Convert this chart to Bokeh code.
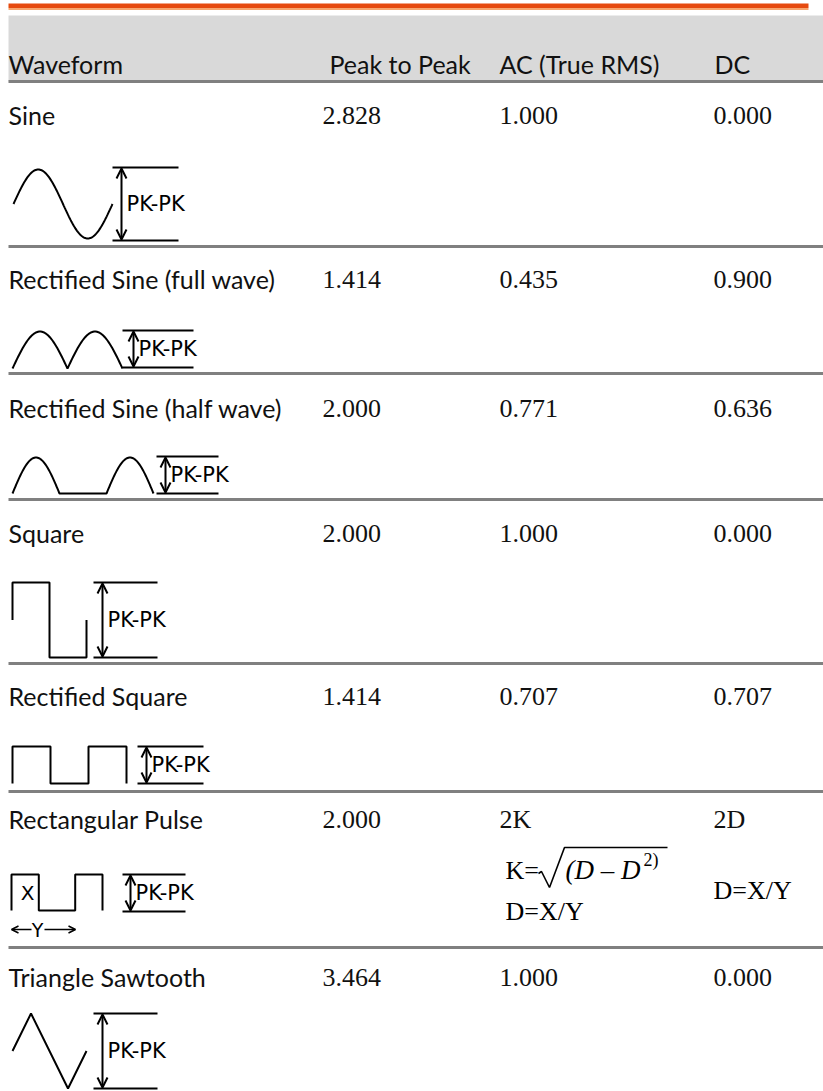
import numpy as np
from bokeh.plotting import figure
from bokeh.models import Range1d, ColumnDataSource, Arrow, OpenHead
from bokeh.core.properties import value
from bokeh.embed import file_html
from bokeh.resources import INLINE

# ---------------- data ----------------
headers = ["Waveform", "Peak to Peak", "AC (True RMS)", "DC"]
waveforms = ["Sine", "Rectified Sine (full wave)", "Rectified Sine (half wave)",
             "Square", "Rectified Square", "Rectangular Pulse", "Triangle Sawtooth"]
peak_to_peak = ["2.828", "1.414", "2.000", "2.000", "1.414", "2.000", "3.464"]
ac_rms = ["1.000", "0.435", "0.771", "1.000", "0.707", "2K", "1.000"]
dc = ["0.000", "0.900", "0.636", "0.000", "0.707", "2D", "0.000"]
shapes = ["sine", "full", "half", "square", "rsquare", "pulse", "tri"]
pk_label = "PK-PK"

# ---------------- layout ----------------
W, H = 823, 1091
col_x = [8, 322, 499, 713]
header_x = [8, 329, 499, 714]
header_base = 73
row_base = [124, 288, 417, 542, 705, 828, 986]
sep_y = [81, 246, 373, 499, 663, 791, 947]
# waveform drawing boxes: x0, x1, top, bottom
wave_box = [(13, 112, 169, 238), (12, 122, 331, 368), (12, 153, 457, 493),
            (12, 86, 582, 657), (12, 126, 746, 783), (11, 102, 874, 910),
            (12, 86, 1013, 1088)]
# PK-PK markers: x0, x1, top, bottom, arrow x
pk_box = [(112, 178, 167, 240, 121), (122, 193, 330, 367, 133), (156, 218, 456, 493, 165),
          (93, 157, 582, 657, 102), (137, 203, 746, 783, 146), (122, 185, 874, 911, 130),
          (93, 157, 1013, 1088, 102)]

SANS = "Lato"
SERIF = "Liberation Serif"
LBL = "DejaVu Sans"
K_SANS = 0.387   # baseline -> middle offset (em)
K_SERIF = 0.34


def mid(base, size, k):
    return base - k * size


def shape_uv(kind):
    if kind == "sine":
        u = np.linspace(0, 1, 121); v = 0.5 + 0.5 * np.sin(2 * np.pi * u)
    elif kind == "full":
        u = np.linspace(0, 1, 121); v = np.abs(np.sin(2 * np.pi * u))
    elif kind == "half":
        u = np.linspace(0, 1, 181); v = np.clip(np.sin(3 * np.pi * u), 0, None)
    elif kind == "square":
        u = np.array([0, 0, .5, .5, 1, 1]); v = np.array([.5, 1, 1, 0, 0, .5])
    elif kind == "rsquare":
        u = np.array([0, 0, 1/3, 1/3, 2/3, 2/3, 1, 1]); v = np.array([0, 1, 1, 0, 0, 1, 1, 0])
    elif kind == "pulse":
        u = np.array([0, 0, .3, .3, .7, .7, 1, 1]); v = np.array([0, 1, 1, 0, 0, 1, 1, 0])
    else:
        u = np.array([0, .25, .75, 1]); v = np.array([.5, 1, 0, .5])
    return u, v


p = figure(width=W, height=H, x_range=Range1d(0, W), y_range=Range1d(H, 0),
           output_backend="svg", toolbar_location=None, min_border=0)
p.axis.visible = False
p.grid.visible = False
p.outline_line_color = None
p.background_fill_color = "white"
p.border_fill_color = "white"

# top orange rule
p.quad(left=[8], right=[808], top=[3], bottom=[7.5], fill_color="#e64a0f", line_color=None)
p.quad(left=[8], right=[808], top=[7.5], bottom=[9.5], fill_color="#f7a56e", line_color=None)

# header band
p.quad(left=[8], right=[W], top=[15], bottom=[81], fill_color="#d9d9d9", line_color=None)

# separators
p.segment(x0=[8] * len(sep_y), x1=[W] * len(sep_y), y0=sep_y, y1=sep_y,
          line_color="#808080", line_width=3)

FS_SANS, FS_SERIF = 25, 26

# header text
p.text(x=header_x, y=[mid(header_base, FS_SANS, K_SANS)] * 4, text=headers,
       text_font=value(SANS), text_font_size=f"{FS_SANS}px", text_color="#111111",
       text_baseline="middle")

# rows text
n = len(waveforms)
p.text(x=[col_x[0]] * n, y=[mid(b, FS_SANS, K_SANS) for b in row_base], text=waveforms,
       text_font=value(SANS), text_font_size=f"{FS_SANS}px", text_color="#111111",
       text_baseline="middle")
for ci, col in zip(col_x[1:], [peak_to_peak, ac_rms, dc]):
    p.text(x=[ci] * n, y=[mid(b, FS_SERIF, K_SERIF) for b in row_base], text=col,
           text_font=value(SERIF), text_font_size=f"{FS_SERIF}px", text_color="#111111",
           text_baseline="middle")

# waveforms
xs, ys = [], []
for kind, (x0, x1, top, bot) in zip(shapes, wave_box):
    u, v = shape_uv(kind)
    xs.append(list(x0 + u * (x1 - x0)))
    ys.append(list(bot - v * (bot - top)))
p.multi_line(xs=xs, ys=ys, line_color="black", line_width=2)

# PK-PK markers
hx, hy = [], []
for (x0, x1, top, bot, ax) in pk_box:
    hx += [[x0, x1], [x0, x1]]
    hy += [[top, top], [bot, bot]]
p.multi_line(xs=hx, ys=hy, line_color="black", line_width=2)
asrc = ColumnDataSource(dict(x=[b[4] for b in pk_box], y0=[b[2] + 1 for b in pk_box],
                             y1=[b[3] - 1 for b in pk_box]))
p.add_layout(Arrow(x_start="x", y_start="y0", x_end="x", y_end="y1", source=asrc,
                   start=OpenHead(size=10, line_width=2), end=OpenHead(size=10, line_width=2),
                   line_width=2, line_color="black"))
p.text(x=[b[4] + 5 for b in pk_box], y=[(b[2] + b[3]) / 2 for b in pk_box],
       text=[pk_label] * len(pk_box), text_font=value(LBL), text_font_size="21px",
       text_color="black", text_baseline="middle")

# rectangular pulse annotations
px0, px1, ptop, pbot = wave_box[5]
p.text(x=[px0 + 16], y=[(ptop + pbot) / 2], text=["X"], text_font=value(LBL),
       text_font_size="20px", text_baseline="middle", text_align="center")
ya = pbot + 19
p.text(x=[px0 + 26], y=[ya], text=["Y"], text_font=value(LBL),
       text_font_size="19px", text_baseline="middle", text_align="center")
p.add_layout(Arrow(x_start=px0 + 20, y_start=ya, x_end=px0, y_end=ya,
                   end=OpenHead(size=7, line_width=1.5), line_width=1.5))
p.add_layout(Arrow(x_start=px0 + 33, y_start=ya, x_end=px0 + 64, y_end=ya,
                   end=OpenHead(size=7, line_width=1.5), line_width=1.5))

# formula in AC / DC columns
fx = col_x[2] + 6
fb = row_base[5] + 51
p.text(x=[fx], y=[mid(fb, 26, K_SERIF)], text=["K="], text_font=value(SERIF),
       text_font_size="26px", text_baseline="middle")
p.line(x=[fx + 33, fx + 36, fx + 44, fx + 59, fx + 162],
       y=[fb - 6, fb - 8, fb + 8, fb - 32, fb - 32], line_color="black", line_width=1.6)
p.text(x=[fx + 60], y=[mid(fb, 27, K_SERIF)], text=["(D – D"], text_font=value(SERIF),
       text_font_size="27px", text_font_style="italic", text_baseline="middle")
p.text(x=[fx + 138], y=[mid(fb - 13, 18, K_SERIF)], text=["2)"], text_font=value(SERIF),
       text_font_size="18px", text_baseline="middle")
p.text(x=[fx], y=[mid(fb + 41, 26, K_SERIF)], text=["D=X/Y"], text_font=value(SERIF),
       text_font_size="26px", text_baseline="middle")
p.text(x=[col_x[3]], y=[mid(fb + 20, 26, K_SERIF)], text=["D=X/Y"], text_font=value(SERIF),
       text_font_size="26px", text_baseline="middle")

open("out.html", "w").write(file_html(p, INLINE))
